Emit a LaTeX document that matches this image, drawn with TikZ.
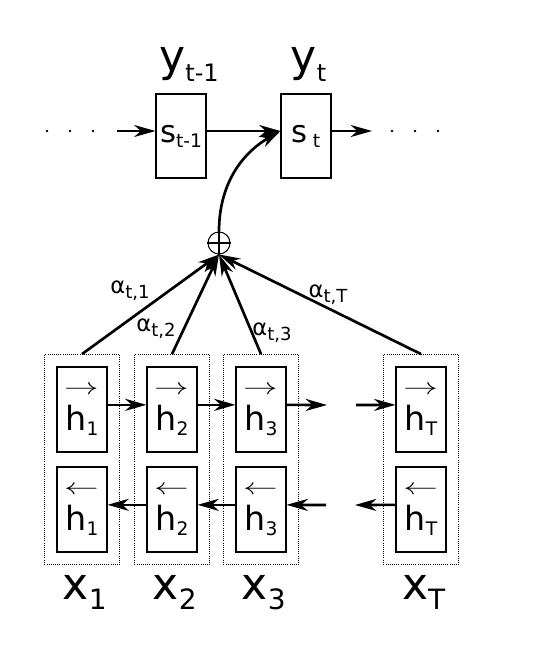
\documentclass[tikz,border=0pt]{standalone}
\usepackage{fontspec}
\usepackage{amsmath}
\setmainfont{DejaVu Sans}
\usetikzlibrary{arrows.meta, fit, positioning}

\newcommand{\sub}[3]{\raisebox{#1}{\fontsize{#2}{#2}\selectfont #3}}
\newcommand{\hvec}[2]{$\overset{\raisebox{3pt}{\makebox[0pt]{\kern8pt\scalebox{1.5}[1]{$\scriptstyle#1$}}}}{\mbox{h}}$\sub{-3.75pt}{14}{#2}}

\begin{document}
\begin{tikzpicture}[x=0.75pt, y=-0.75pt]
    \tikzset{
        state/.style={draw, line width=0.8pt, minimum width=37.5pt, minimum height=63pt,
            inner sep=0pt, font=\fontsize{23}{23}\selectfont},
        hidden/.style={draw, line width=0.8pt, minimum width=37.5pt, minimum height=63.75pt,
            inner sep=0pt, font=\fontsize{25}{25}\selectfont},
        group/.style={draw, densely dotted, line width=0.6pt, inner sep=9pt},
        big/.style={inner sep=0pt, font=\fontsize{33}{33}\selectfont},
        weight/.style={inner sep=0pt, font=\fontsize{17}{17}\selectfont},
        link/.style={line width=2pt, -{Stealth[length=16pt, width=9pt, inset=5pt]}}
    }
    \useasboundingbox (0,0) rectangle (542,651);

    % decoder states
    \node[state] (s1) at (181,136) {s\sub{-3.75pt}{14}{t-1}};
    \node[state] (s2) at (306,136) {s\,\sub{-3.75pt}{14}{t}};
    \node[big, above=9pt of s1, xshift=6pt] (y1) {y\sub{-7.5pt}{18}{t-1}};
    \node[big, above=9pt of s2, xshift=2pt] (y2) {y\sub{-7.5pt}{18}{t}};

    \coordinate (in) at (117,131);
    \coordinate (out) at (372,131);
    \foreach \p in {47, 70, 93, 392, 415, 438}
        \fill[black] (\p,131) circle (1.1pt);

    \draw[link] (in) -- ([yshift=3.75pt]s1.west);
    \draw[link] ([yshift=3.75pt]s1.east) -- ([yshift=3.75pt]s2.west);
    \draw[link] ([yshift=3.75pt]s2.east) -- (out);

    % encoder columns
    \foreach \i/\x in {1/82, 2/172, 3/261, T/421} {
        \node[hidden] (f\i) at (\x,409.5) {\hvec{\rightarrow}{\i}};
        \node[hidden] (b\i) at (\x,509.5) {\hvec{\leftarrow}{\i}};
        \node[group, fit=(f\i)(b\i)] (g\i) {};
        \node[big, below=8pt of g\i, xshift=2pt] (x\i) {x\sub{-7pt}{21}{\i}};
    }

    \coordinate (f3r) at (327,405);
    \coordinate (fTl) at (356,405);
    \coordinate (b3r) at (326,505);
    \coordinate (bTl) at (355,505);

    \foreach \a/\b in {1/2, 2/3}
        \draw[link] ([yshift=3.5pt]f\a.east) -- ([yshift=3.5pt]f\b.west);
    \draw[link] ([yshift=3.5pt]f3.east) -- (f3r);
    \draw[link] (fTl) -- ([yshift=3.5pt]fT.west);

    \foreach \a/\b in {2/1, 3/2}
        \draw[link] ([yshift=3.5pt]b\a.west) -- ([yshift=3.5pt]b\b.east);
    \draw[link] (b3r) -- ([yshift=3.5pt]b3.east);
    \draw[link] ([yshift=3.5pt]bT.west) -- (bTl);

    % attention sum
    \node[circle, draw, line width=0.8pt, minimum size=16.5pt, inner sep=0pt] (sum) at (219,243) {};
    \draw[line width=1.9pt] (sum.north) -- (sum.south) (sum.west) -- (sum.east);

    \foreach \i in {1, 2, 3, T}
        \draw[link] (g\i.north) -- (sum.south);
    \draw[link] (sum.north) to[out=90, in=210] ([yshift=3.75pt]s2.west);

    \node[weight] (w1) at (130,291) {α\sub{-4pt}{13.5}{t,1}};
    \node[weight] (w2) at (156,329) {α\sub{-4pt}{13.5}{t,2}};
    \node[weight] (w3) at (272,333) {α\sub{-4pt}{13.5}{t,3}};
    \node[weight] (wT) at (328,295) {α\sub{-4pt}{13.5}{t,T}};
\end{tikzpicture}
\end{document}
